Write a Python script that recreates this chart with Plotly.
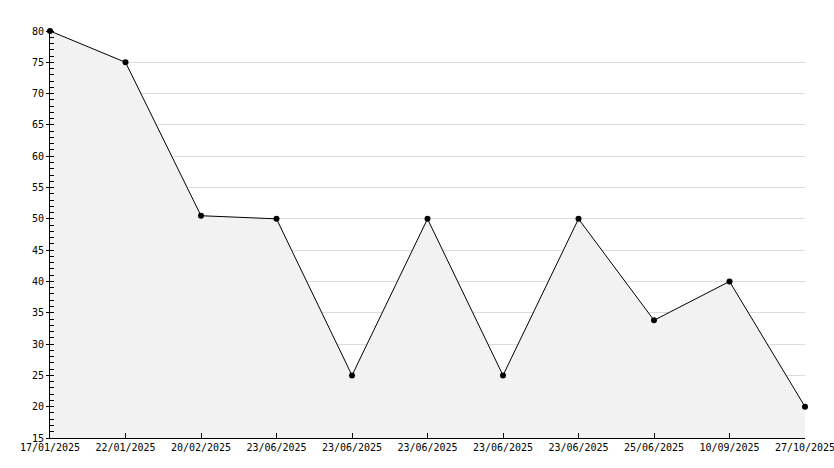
import plotly.graph_objects as go

dates = ["17/01/2025", "22/01/2025", "20/02/2025", "23/06/2025", "23/06/2025",
         "23/06/2025", "23/06/2025", "23/06/2025", "25/06/2025", "10/09/2025", "27/10/2025"]
values = [80, 75, 50.5, 50, 25, 50, 25, 50, 33.8, 40, 20]
y_ticks = list(range(15, 81, 5))

x_idx = list(range(len(dates)))

fig = go.Figure()
fig.add_trace(go.Scatter(
    x=x_idx, y=values, mode="lines+markers",
    line=dict(color="black", width=1),
    marker=dict(color="black", size=6, symbol="circle"),
    fill="tozeroy", fillcolor="#f2f2f2",
    cliponaxis=False, hoverinfo="skip",
))

fig.update_layout(
    width=834, height=468,
    margin=dict(l=50, r=29, t=31, b=30),
    paper_bgcolor="white", plot_bgcolor="white",
    showlegend=False,
    font=dict(family="DejaVu Sans Mono", size=10, color="black"),
)
fig.update_xaxes(
    range=[0, len(dates) - 1], tickmode="array", tickvals=x_idx, ticktext=dates,
    showgrid=False, zeroline=False, showline=True, linecolor="black", linewidth=1,
    ticks="inside", ticklen=5, tickcolor="black", tickangle=0, automargin=False,
    ticklabeloverflow="allow",
)
fig.update_yaxes(
    range=[15, 80], tickmode="array", tickvals=y_ticks,
    showgrid=True, gridcolor="#dcdcdc", gridwidth=1, zeroline=False,
    showline=True, linecolor="black", linewidth=1,
    ticks="outside", ticklen=3, tickcolor="black", automargin=False,
    minor=dict(dtick=1, ticks="inside", ticklen=4, tickcolor="black", showgrid=False),
)
fig.write_html("out.html", config={"displayModeBar": False},
               post_script="document.body.style.margin='0';document.body.style.overflow='hidden';")
